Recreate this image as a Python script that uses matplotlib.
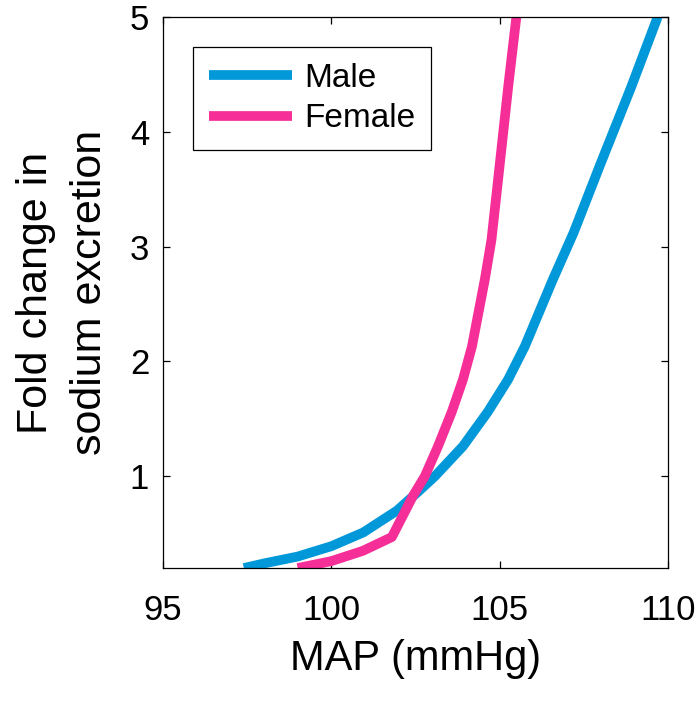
import matplotlib
matplotlib.use('Agg')
import matplotlib.pyplot as plt

# 값은 그림에서 읽은 추정치
male_map = [97.4, 98.0, 99.0, 100.0, 100.95, 101.95, 102.6, 103.08, 103.91,
            104.65, 105.25, 105.75, 106.58, 107.2, 108.0, 108.9, 109.7]
male_fold = [0.20, 0.24, 0.30, 0.39, 0.51, 0.70, 0.87, 1.00, 1.26,
             1.56, 1.84, 2.13, 2.71, 3.12, 3.72, 4.38, 5.0]

female_map = [99.0, 100.0, 100.94, 101.8, 102.43, 102.78, 103.17, 103.58,
              103.91, 104.18, 104.56, 104.76, 105.0, 105.26, 105.5]
female_fold = [0.20, 0.26, 0.35, 0.47, 0.83, 1.00, 1.26, 1.56,
               1.84, 2.13, 2.71, 3.06, 3.70, 4.40, 5.0]

x_ticks = [95, 100, 105, 110]
y_ticks = [1, 2, 3, 4, 5]

plt.rcParams['font.family'] = ['Liberation Sans', 'DejaVu Sans']

fig = plt.figure(figsize=(7, 7.03), dpi=100)
ax = fig.add_axes([0.233, 0.192, 0.721, 0.784])

ax.plot(male_map, male_fold, color='#0098D8', lw=7, label='Male',
        solid_capstyle='butt', solid_joinstyle='round')
ax.plot(female_map, female_fold, color='#F52E98', lw=7, label='Female',
        solid_capstyle='butt', solid_joinstyle='round')

ax.set_xlim(95, 110)
ax.set_ylim(0.2, 5)
ax.set_xticks(x_ticks)
ax.set_yticks(y_ticks)
ax.tick_params(direction='in', length=5, width=0.9, top=True, right=True,
               labelsize=25)
ax.tick_params(axis='x', pad=19)
ax.tick_params(axis='y', pad=10)
for s in ax.spines.values():
    s.set_linewidth(0.9)

ax.set_xlabel('MAP (mmHg)', fontsize=30, labelpad=8)
ax.set_ylabel('Fold change in\nsodium excretion', fontsize=31, labelpad=14,
              linespacing=1.45)

leg = ax.legend(loc='upper left', bbox_to_anchor=(0.059, 0.946), fontsize=24,
                frameon=True, fancybox=False, framealpha=1, edgecolor='black',
                handlelength=2.5, handletextpad=0.35, borderpad=0.48,
                labelspacing=0.29, borderaxespad=0)
leg.get_frame().set_linewidth(0.9)

fig.savefig('out.png', dpi=100)
